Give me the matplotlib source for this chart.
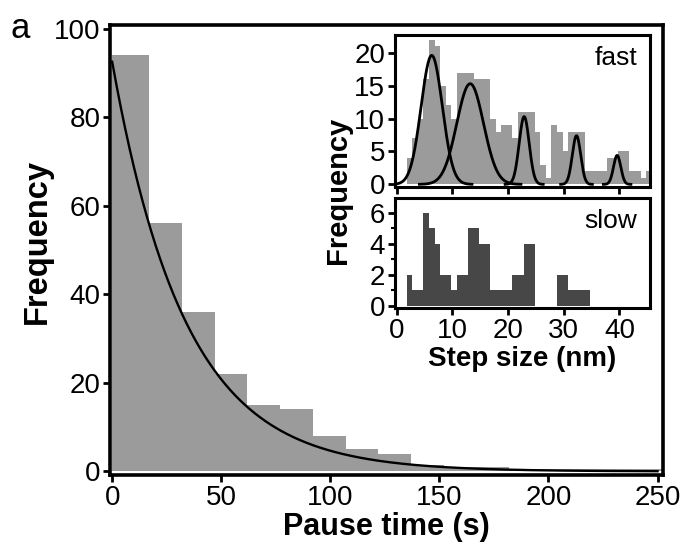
import numpy as np
import matplotlib
matplotlib.use("Agg")
import matplotlib.pyplot as plt

plt.rcParams['font.family'] = ['Liberation Sans', 'DejaVu Sans']

# ---- pause-time histogram (main panel) ----
pause_bin_edges = [0, 17, 32, 47, 62, 77, 92, 107, 122, 137, 152, 167, 182,
                   197, 212, 227, 242, 257]
pause_counts = [94, 56, 36, 22, 15, 14, 8, 5, 4, 1.5, 1, 1, 0.5, 0.5, 0.5,
                0.5, 0.5]
# single-exponential fit: A * exp(-t / tau)
pause_fit_amp = 92.5
pause_fit_tau = 33.5
pause_ticks = [0, 50, 100, 150, 200, 250]
freq_ticks = [0, 20, 40, 60, 80, 100]

# ---- step-size histograms (insets), 1 nm bins ----
step_bin_start = 0.8
step_bin_width = 1.0
fast_counts = [0, 4, 7, 10, 16, 22, 21, 15, 12, 10, 17, 17, 17, 16, 16,
               16, 10, 8, 9, 9, 7, 11, 11, 11, 8, 3, 1, 9, 8, 5, 8, 8, 8, 2,
               2, 2, 2, 4, 4, 5, 5, 2, 2, 1, 2]
slow_counts = [0, 2, 1, 1, 6, 5, 4, 2, 2, 1, 2, 2, 5, 5, 4, 4, 1, 1, 1, 1,
               2, 2, 4, 4, 0, 0, 0, 0, 2, 2, 1, 1, 1, 1, 0, 0, 0, 0, 0, 0,
               0, 0, 0, 0, 0]
# Gaussian fits to the fast distribution: (centre, sigma, amplitude)
fast_fits = [(6.3, 1.9, 19.6), (13.2, 2.4, 15.3), (22.9, 0.9, 10.3),
             (32.3, 0.75, 7.4), (39.6, 0.65, 4.4)]
step_ticks = [0, 10, 20, 30, 40]
fast_yticks = [0, 5, 10, 15, 20]
slow_yticks = [0, 2, 4, 6]

W, H = 686, 549
fig = plt.figure(figsize=(W / 100, H / 100), dpi=100)


def style_axes(ax, lw):
    for sp in ax.spines.values():
        sp.set_linewidth(lw)
        sp.set_color('black')
    ax.tick_params(direction='out', length=5, width=2, colors='black',
                   labelsize=20, pad=2)


# main panel
ax = fig.add_axes([110 / W, 1 - 475 / H, (663 - 110) / W, (475 - 25) / H])
edges = np.array(pause_bin_edges, dtype=float)
ax.bar(edges[:-1], pause_counts, width=np.diff(edges), align='edge',
       color='#9b9b9b', linewidth=0)
t = np.linspace(0, 250, 500)
ax.plot(t, pause_fit_amp * np.exp(-t / pause_fit_tau), color='black', lw=1.7)
ax.set_xlim(-1, 252.5)
ax.set_ylim(-0.8, 100.8)
ax.set_xticks(pause_ticks)
ax.set_yticks(freq_ticks)
style_axes(ax, 2.6)
ax.set_xlabel('Pause time (s)', fontsize=22, fontweight='bold', labelpad=1)
ax.set_ylabel('Frequency', fontsize=23.5, fontweight='bold', labelpad=2)
ax.yaxis.set_label_coords(-0.104, 0.52)

fig.text(10 / W, 1 - 38 / H, 'a', fontsize=25, ha='left', va='baseline')

# inset: fast steps
step_edges = step_bin_start + step_bin_width * np.arange(len(fast_counts) + 1)
axf = fig.add_axes([395 / W, 1 - 187 / H, (650 - 395) / W, (187 - 35) / H])
axf.bar(step_edges[:-1], fast_counts, width=step_bin_width, align='edge',
        color='#9b9b9b', linewidth=0)
for mu, sig, amp in fast_fits:
    lo = max(mu - 3.8 * sig, 0)
    x = np.linspace(lo, mu + 3.8 * sig, 200)
    axf.plot(x, amp * np.exp(-0.5 * ((x - mu) / sig) ** 2), color='black',
             lw=2.0)
axf.set_xlim(-0.3, 45.5)
axf.set_ylim(-0.4, 22.7)
axf.set_xticks(step_ticks)
axf.set_xticklabels([])
axf.set_yticks(fast_yticks)
style_axes(axf, 2.2)
axf.text(0.95, 0.93, 'fast', transform=axf.transAxes, ha='right', va='top',
         fontsize=19)

# inset: slow steps
axs = fig.add_axes([395 / W, 1 - 308 / H, (650 - 395) / W, (308 - 198) / H])
axs.bar(step_edges[:-1], slow_counts, width=step_bin_width, align='edge',
        color='#474747', linewidth=0)
axs.set_xlim(-0.3, 45.5)
axs.set_ylim(-0.15, 6.95)
axs.set_xticks(step_ticks)
axs.set_yticks(slow_yticks)
axs.set_yticks([1, 3, 5], minor=True)
axs.tick_params(which='minor', direction='out', length=3, width=1.5)
style_axes(axs, 2.2)
axs.set_xlabel('Step size (nm)', fontsize=20, fontweight='bold', labelpad=2)
axs.text(0.95, 0.9, 'slow', transform=axs.transAxes, ha='right', va='top',
         fontsize=19)

fig.text(338 / W, 1 - 190 / H, 'Frequency', rotation=90, fontsize=21,
         fontweight='bold', ha='center', va='center')

fig.savefig('out.png', dpi=100)
